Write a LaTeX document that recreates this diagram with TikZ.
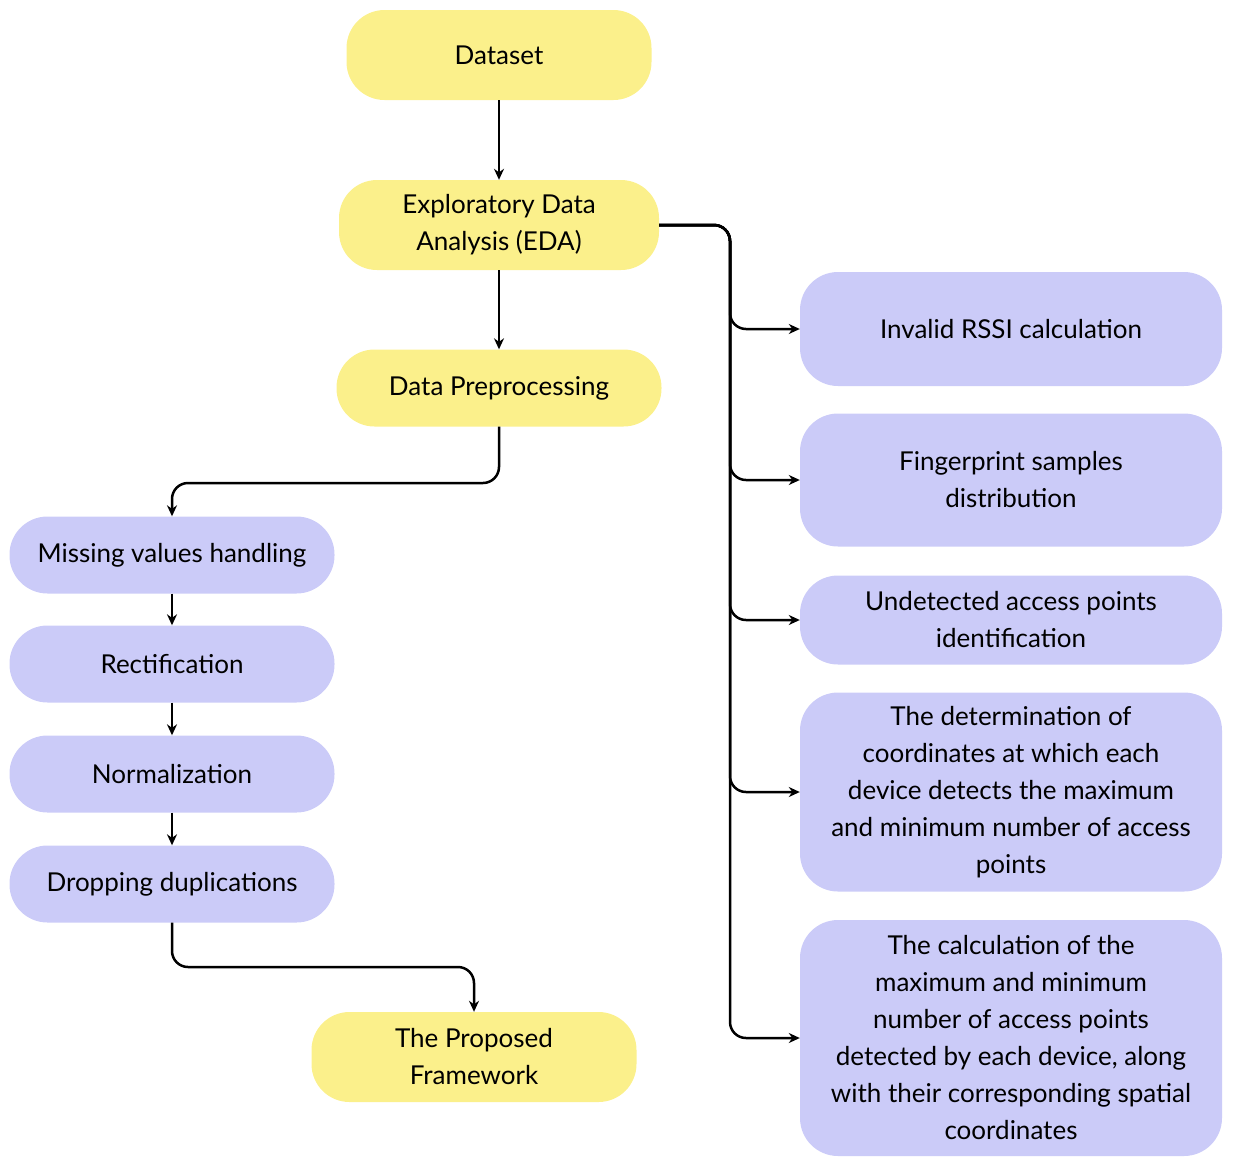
\documentclass[tikz,border=0pt]{standalone}
\usepackage{fontspec}
\setmainfont{Lato}
\usetikzlibrary{arrows.meta}
\definecolor{yel}{HTML}{FBF08B}
\definecolor{pur}{HTML}{CBCBF8}
\begin{document}
\begin{tikzpicture}[x=1pt,y=-1pt,
  box/.style={rounded corners=38pt,inner sep=0pt,align=center,font=\fontsize{26}{37}\selectfont},
  ybox/.style={box,fill=yel},
  pbox/.style={box,fill=pur},
  conn/.style={line width=2.5pt,-{Stealth[length=11pt,width=10pt]},rounded corners=16pt}]
\useasboundingbox (0,0) rectangle (1240,1168);
\node[ybox,minimum width=305pt,minimum height=90pt] (ds) at (499,55) {Dataset};
\node[ybox,minimum width=320pt,minimum height=90pt] (eda) at (499,225) {Exploratory Data\\Analysis (EDA)};
\node[ybox,minimum width=325pt,minimum height=77pt] (pre) at (499,388) {Data Preprocessing};
\node[pbox,minimum width=325pt,minimum height=77pt] (mv) at (172,555) {Missing values handling};
\node[pbox,minimum width=325pt,minimum height=77pt] (rec) at (172,664) {Rectification};
\node[pbox,minimum width=325pt,minimum height=77pt] (nor) at (172,774) {Normalization};
\node[pbox,minimum width=325pt,minimum height=77pt] (dro) at (172,884) {Dropping duplications};
\node[ybox,minimum width=325pt,minimum height=90pt] (pf) at (474,1057) {The Proposed\\Framework};
\node[pbox,minimum width=422pt,minimum height=114pt] (b1) at (1011,329) {Invalid RSSI calculation};
\node[pbox,minimum width=422pt,minimum height=133pt] (b2) at (1011,480) {Fingerprint samples\\distribution};
\node[pbox,minimum width=422pt,minimum height=89pt] (b3) at (1011,620) {Undetected access points\\identification};
\node[pbox,minimum width=422pt,minimum height=199pt] (b4) at (1011,792) {The determination of\\coordinates at which each\\device detects the maximum\\and minimum number of access\\points};
\node[pbox,minimum width=422pt,minimum height=236pt] (b5) at (1011,1038) {The calculation of the\\maximum and minimum\\number of access points\\detected by each device, along\\with their corresponding spatial\\coordinates};
\draw[conn] (ds) -- (eda);
\draw[conn] (eda) -- (pre);
\foreach \b in {b1,b2,b3,b4,b5}
  \draw[conn] (eda.east) -- (730,225) |- (\b.west);
\draw[conn] (pre.south) -- (499,483) -- (172,483) -- (mv.north);
\draw[conn] (mv) -- (rec);
\draw[conn] (rec) -- (nor);
\draw[conn] (nor) -- (dro);
\draw[conn] (dro.south) -- (172,967) -- (474,967) -- (pf.north);
\end{tikzpicture}
\end{document}
